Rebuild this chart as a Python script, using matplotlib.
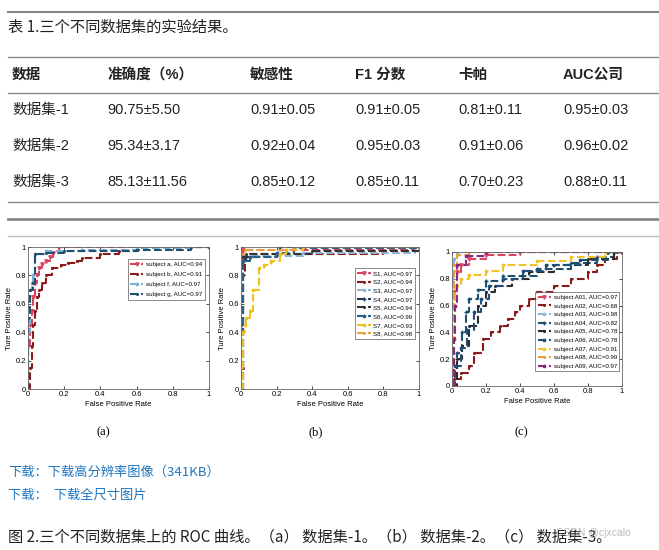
import matplotlib
matplotlib.use("Agg")
import matplotlib.pyplot as plt
from matplotlib.lines import Line2D

CJK = ['Noto Sans CJK SC', 'DejaVu Sans']
NUM = ['Liberation Sans', 'Noto Sans CJK SC', 'DejaVu Sans']

# ---- table data ----
table_title = "表 1.三个不同数据集的实验结果。"
headers = ["数据", "准确度（%）", "敏感性", "F1 分数", "卡帕", "AUC公司"]
rows = [
    ["数据集-1", "90.75±5.50", "0.91±0.05", "0.91±0.05", "0.81±0.11", "0.95±0.03"],
    ["数据集-2", "95.34±3.17", "0.92±0.04", "0.95±0.03", "0.91±0.06", "0.96±0.02"],
    ["数据集-3", "85.13±11.56", "0.85±0.12", "0.85±0.11", "0.70±0.23", "0.88±0.11"],
]
col_x = [12, 107, 250, 355, 458, 563]

# ---- ROC curves (fpr, tpr) ----
a_labels = ["subject a, AUC=0.94", "subject b, AUC=0.91", "subject f, AUC=0.97", "subject g, AUC=0.97"]
a_fpr = [
    [0, 0, 0.01, 0.02, 0.03, 0.04, 0.05, 0.06, 0.08, 0.10, 0.12, 0.14, 0.17, 1.0],
    [0, 0.01, 0.02, 0.03, 0.04, 0.05, 0.06, 0.08, 0.10, 0.13, 0.18, 0.22, 0.27, 0.30, 0.40, 0.50, 0.60, 0.65, 1.0],
    [0, 0, 0.01, 0.02, 0.03, 0.04, 0.10, 0.30, 0.60, 0.90, 1.0],
    [0, 0, 0.01, 0.03, 0.04, 0.10, 0.20, 0.60, 0.90, 1.0],
]
a_tpr = [
    [0, 0.30, 0.45, 0.55, 0.65, 0.75, 0.80, 0.85, 0.88, 0.90, 0.93, 0.96, 1.0, 1.0],
    [0, 0.15, 0.30, 0.45, 0.55, 0.65, 0.70, 0.75, 0.80, 0.85, 0.87, 0.89, 0.90, 0.92, 0.95, 0.97, 0.98, 1.0, 1.0],
    [0, 0.40, 0.70, 0.75, 0.80, 0.95, 0.97, 0.98, 0.99, 1.0, 1.0],
    [0, 0.50, 0.70, 0.75, 0.95, 0.96, 0.97, 0.98, 1.0, 1.0],
]
a_colors = ["#d9455f", "#8b1a1a", "#7fb0d0", "#1d4f6e"]
a_markers = ["v", ".", "*", "."]

b_labels = ["S1, AUC=0.97", "S2, AUC=0.94", "S3, AUC=0.97", "S4, AUC=0.97",
            "S5, AUC=0.94", "S6, AUC=0.99", "S7, AUC=0.93", "S8, AUC=0.98"]
b_fpr = [
    [0, 0, 0.01, 0.98, 1.0],
    [0, 0.01, 0.01, 0.02, 0.80, 0.97, 1.0],
    [0, 0.01, 0.02, 0.35, 0.98, 1.0],
    [0, 0, 0.01, 0.03, 0.20, 0.22, 1.0],
    [0, 0.01, 0.03, 0.40, 1.0],
    [0, 0.01, 0.05, 0.20, 0.30, 1.0],
    [0, 0.01, 0.02, 0.03, 0.05, 0.07, 0.10, 0.13, 0.17, 0.22, 0.25, 0.35, 1.0],
    [0, 0, 0.02, 0.30, 1.0],
]
b_tpr = [
    [0, 0.90, 0.98, 1.0, 1.0],
    [0, 0.15, 0.80, 0.95, 0.97, 1.0, 1.0],
    [0, 0.93, 0.94, 0.96, 1.0, 1.0],
    [0, 0.45, 0.90, 0.93, 0.95, 1.0, 1.0],
    [0, 0.93, 0.95, 0.97, 1.0],
    [0, 0.90, 0.93, 0.96, 0.99, 1.0],
    [0, 0.40, 0.45, 0.50, 0.55, 0.70, 0.85, 0.87, 0.90, 0.95, 0.98, 1.0, 1.0],
    [0, 0.95, 0.98, 1.0, 1.0],
]
b_colors = ["#d9455f", "#8b1a1a", "#8fb8d8", "#1c3a5a", "#333333", "#2a5f8a", "#f0c020", "#e8a040"]
b_markers = ["v", ".", "*", "+", ".", "*", "*", "."]

c_labels = ["subject A01, AUC=0.97", "subject A02, AUC=0.68", "subject A03, AUC=0.98",
            "subject A04, AUC=0.82", "subject A05, AUC=0.78", "subject A06, AUC=0.78",
            "subject A07, AUC=0.91", "subject A08, AUC=0.99", "subject A09, AUC=0.97"]
c_fpr = [
    [0, 0.01, 0.03, 0.05, 0.10, 0.20, 0.40, 1.0],
    [0, 0.01, 0.05, 0.10, 0.13, 0.18, 0.23, 0.28, 0.33, 0.37, 0.40, 0.45, 0.50, 0.60, 0.70, 0.80, 0.85, 0.90, 0.97, 1.0],
    [0, 0, 0.01, 0.03, 1.0],
    [0, 0.01, 0.03, 0.06, 0.08, 0.10, 0.15, 0.20, 0.30, 0.50, 0.70, 0.85, 0.95, 1.0],
    [0, 0.03, 0.06, 0.10, 0.15, 0.20, 0.25, 0.35, 0.45, 0.60, 0.80, 0.95, 1.0],
    [0, 0.02, 0.05, 0.09, 0.13, 0.17, 0.22, 0.30, 0.42, 0.55, 0.75, 0.92, 1.0],
    [0, 0, 0.01, 0.02, 0.05, 0.10, 0.20, 0.30, 0.50, 0.70, 0.90, 1.0],
    [0, 0, 0.01, 0.03, 0.10, 1.0],
    [0, 0.01, 0.02, 0.03, 0.08, 0.20, 1.0],
]
c_tpr = [
    [0, 0.70, 0.85, 0.90, 0.95, 0.98, 1.0, 1.0],
    [0, 0.05, 0.10, 0.15, 0.25, 0.35, 0.40, 0.45, 0.50, 0.55, 0.60, 0.65, 0.70, 0.75, 0.80, 0.85, 0.90, 0.95, 1.0, 1.0],
    [0, 0.80, 0.95, 1.0, 1.0],
    [0, 0.10, 0.25, 0.40, 0.55, 0.65, 0.72, 0.78, 0.82, 0.87, 0.92, 0.96, 1.0, 1.0],
    [0, 0.20, 0.30, 0.45, 0.60, 0.70, 0.75, 0.80, 0.85, 0.90, 0.95, 1.0, 1.0],
    [0, 0.15, 0.28, 0.42, 0.55, 0.65, 0.75, 0.80, 0.86, 0.90, 0.94, 1.0, 1.0],
    [0, 0.35, 0.60, 0.75, 0.80, 0.83, 0.86, 0.90, 0.93, 0.96, 1.0, 1.0],
    [0, 0.40, 0.90, 0.98, 1.0, 1.0],
    [0, 0.35, 0.60, 0.90, 0.97, 1.0, 1.0],
]
c_colors = ["#d9455f", "#8b1a1a", "#8fb8d8", "#1d4f6e", "#2b2b2b", "#1f4e79", "#f2c12e", "#e8a040", "#8b2a7a"]
c_markers = ["v", ".", "*", "+", ".", "*", "*", ".", "*"]

link1 = "下载：下载高分辨率图像（341KB）"
link2 = "下载：  下载全尺寸图片"
fig_caption = "图 2.三个不同数据集上的 ROC 曲线。（a） 数据集-1。（b） 数据集-2。（c） 数据集-3。"

W, H = 659, 550
fig = plt.figure(figsize=(W / 100, H / 100), dpi=100)


def fx(x):
    return x / W


def fy(y):
    return 1 - y / H


def hline(y, color, lw, x0=8, x1=659):
    fig.add_artist(Line2D([fx(x0), fx(x1)], [fy(y), fy(y)], color=color, lw=lw,
                          transform=fig.transFigure))


hline(12, "#888888", 1.5)
hline(57, "#888888", 1.0)
hline(93, "#888888", 1.0)
hline(202, "#888888", 1.0)
hline(219, "#888888", 2.0)
hline(236, "#bbbbbb", 1.0)

fig.text(fx(8), fy(27), table_title, family=CJK, fontsize=11, va="center", color="#222222")
for x, h in zip(col_x, headers):
    fig.text(fx(x), fy(75), h, family=NUM, fontsize=10.5, fontweight="bold", va="center", color="#222222")
for r, y in zip(rows, [110, 146, 182]):
    for x, v in zip(col_x, r):
        fig.text(fx(x), fy(y), v, family=NUM, fontsize=10.5, va="center", color="#222222")


def roc(box, fprs, tprs, labels, colors, markers, leg_box, sub, sub_x, spacing):
    l, t, r, b = box
    ax = fig.add_axes([fx(l), fy(b), fx(r - l), (b - t) / H])
    for f, tp, lab, c, m in zip(fprs, tprs, labels, colors, markers):
        ax.step(f, tp, where="post", color=c, lw=1.5, ls="--", marker=m, ms=2.4, label=lab)
    ax.set_xlim(0, 1)
    ax.set_ylim(0, 1)
    ticks = [0, 0.2, 0.4, 0.6, 0.8, 1]
    ax.set_xticks(ticks)
    ax.set_yticks(ticks)
    ax.set_xticklabels(["0", "0.2", "0.4", "0.6", "0.8", "1"])
    ax.set_yticklabels(["0", "0.2", "0.4", "0.6", "0.8", "1"])
    ax.tick_params(direction="in", length=2, width=0.5, labelsize=5.5, pad=1.5,
                   top=True, right=True)
    for s in ax.spines.values():
        s.set_color("#666666")
        s.set_linewidth(0.6)
    ax.set_xlabel("False Positive Rate", fontsize=5.5, family="Liberation Sans", labelpad=2)
    ax.set_ylabel("Ture Positive Rate", fontsize=5.5, family="Liberation Sans", labelpad=2)
    for lb in ax.get_xticklabels() + ax.get_yticklabels():
        lb.set_family("Liberation Sans")
    leg = ax.legend(loc="upper left", bbox_to_anchor=leg_box, frameon=True,
                    fancybox=False, edgecolor="#333333", handlelength=2.2, borderpad=0.4,
                    labelspacing=spacing, handletextpad=0.4, borderaxespad=0,
                    prop={"family": "Liberation Sans", "size": 4.4})
    leg.get_frame().set_linewidth(0.5)
    fig.text(fx(sub_x), fy(432), sub, family="Liberation Serif", fontsize=9, ha="center", va="center")
    return ax


roc((28, 247, 209, 389), a_fpr, a_tpr, a_labels, a_colors, a_markers, (0.55, 0.915), "(a)", 103, 0.8)
roc((241, 247, 419, 389), b_fpr, b_tpr, b_labels, b_colors, b_markers, (0.64, 0.85), "(b)", 316, 0.55)
roc((452, 252, 622, 386), c_fpr, c_tpr, c_labels, c_colors, c_markers, (0.49, 0.70), "(c)", 521, 0.55)

fig.text(fx(8), fy(472), link1, family=CJK, fontsize=9.5, va="center", color="#1f77c0")
fig.text(fx(8), fy(495), link2, family=CJK, fontsize=9.5, va="center", color="#1f77c0")
fig.text(fx(8), fy(537), fig_caption, family=CJK, fontsize=11, va="center", color="#222222")
fig.text(fx(556), fy(533), "CSDN @cjxcalo", family="Liberation Sans", fontsize=7.5, va="center",
         color="#aaaaaa", alpha=0.8)

fig.savefig("out.png", dpi=100)
